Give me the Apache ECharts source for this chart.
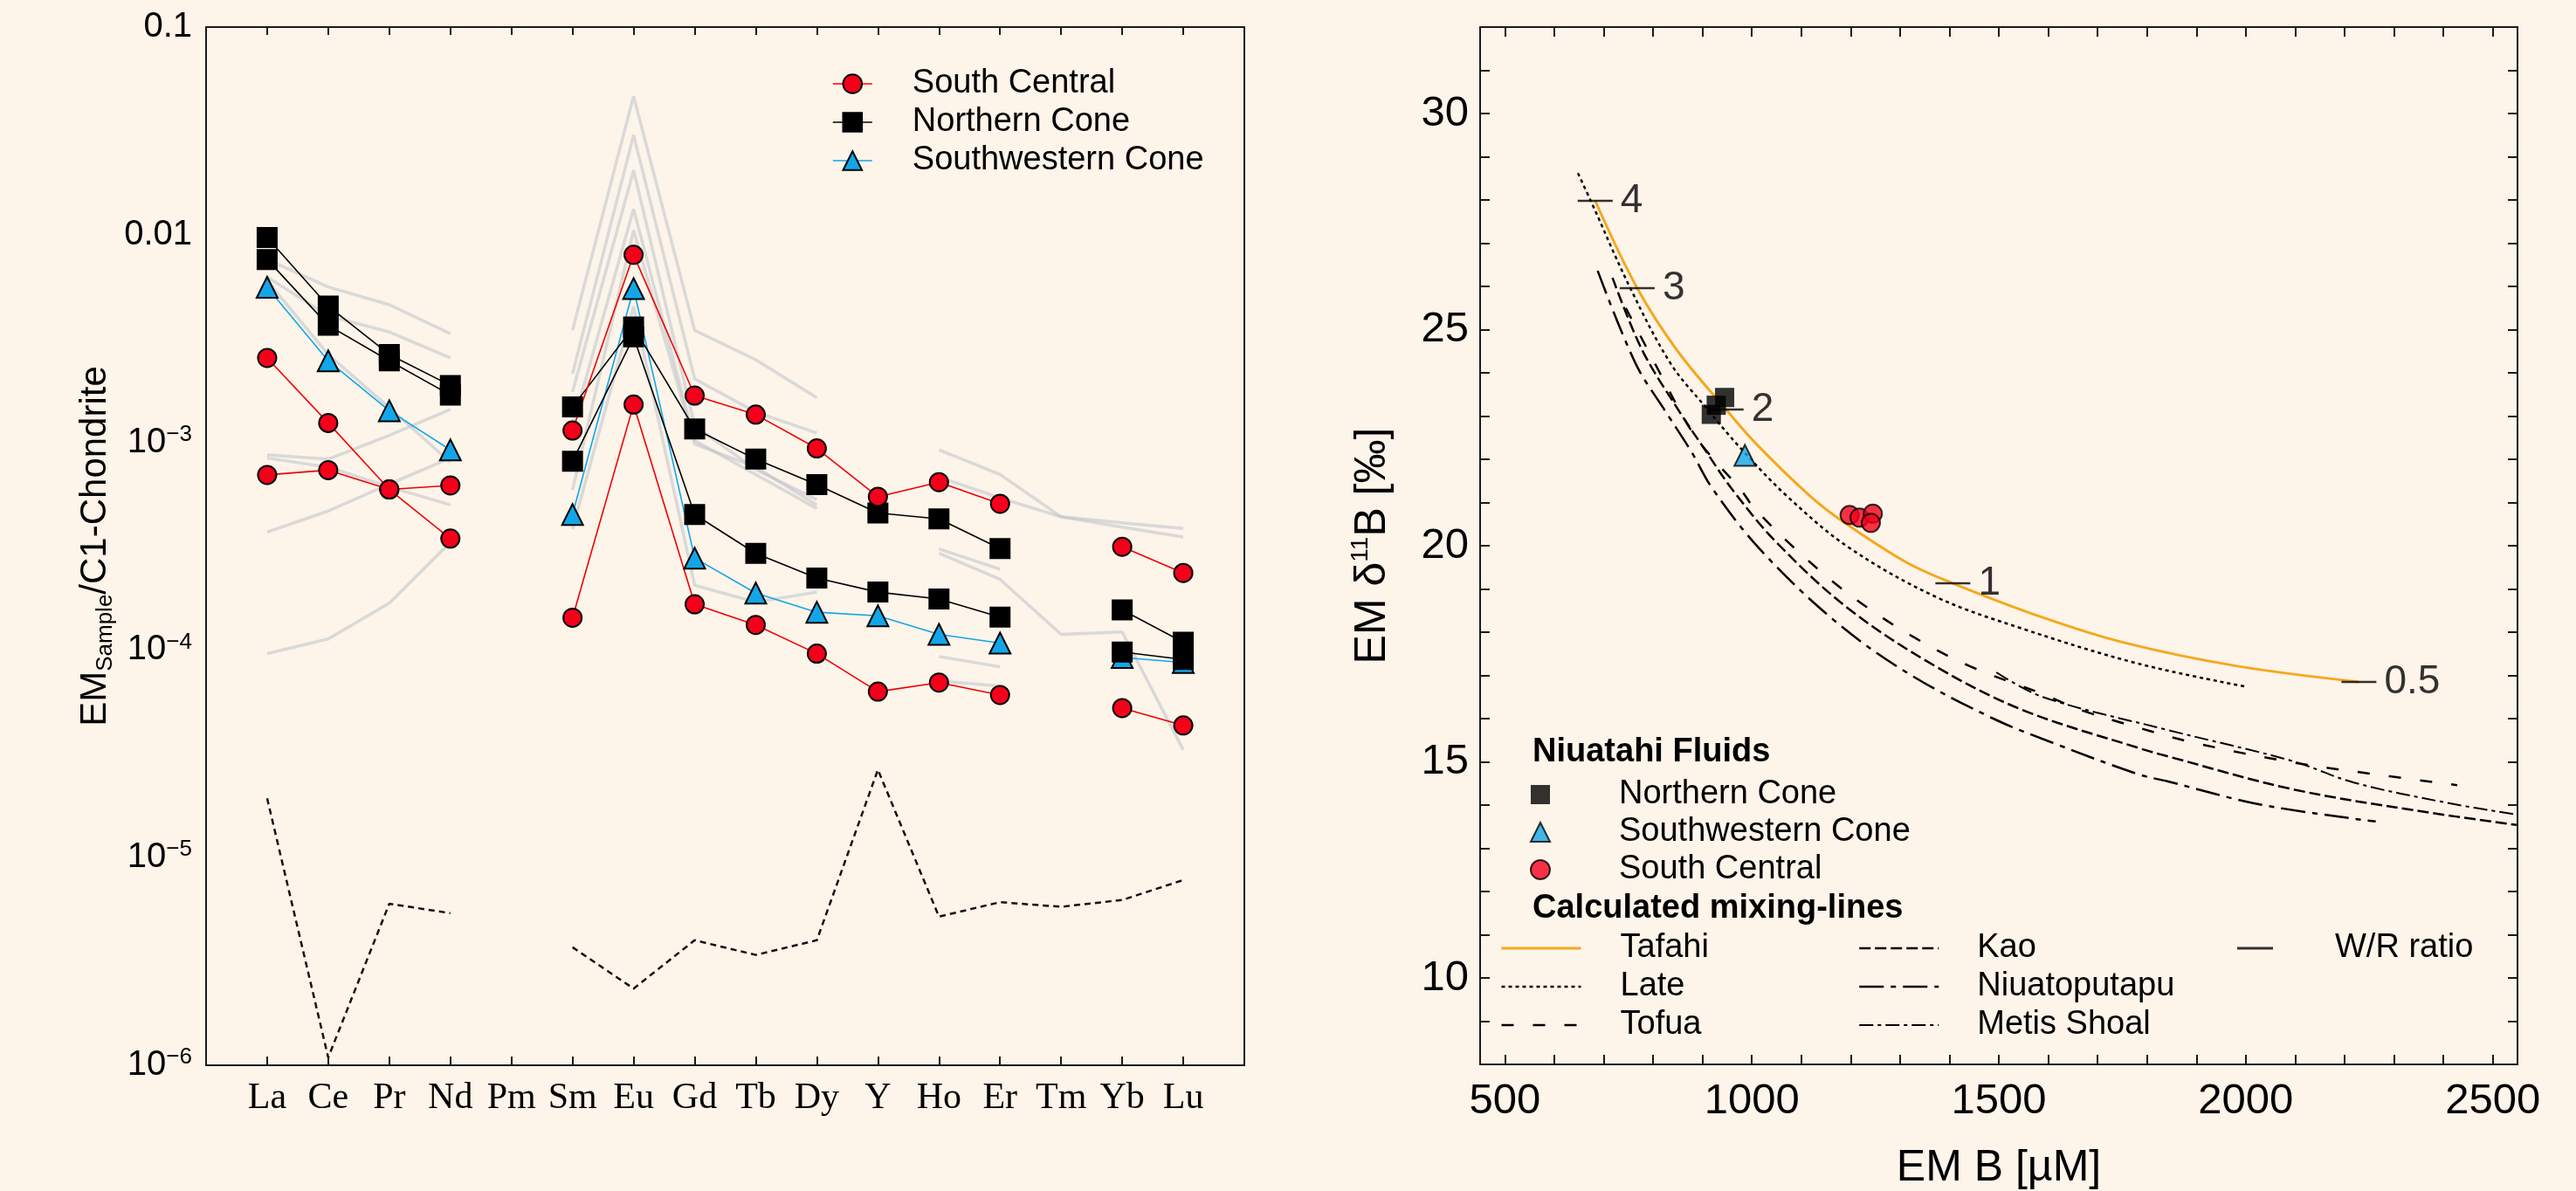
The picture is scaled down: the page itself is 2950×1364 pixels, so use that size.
<!DOCTYPE html>
<html>
<head>
<meta charset="utf-8">
<title>Niuatahi fluids – REE pattern and boron mixing</title>
<script src="https://cdn.jsdelivr.net/npm/echarts@6/dist/echarts.min.js"></script>
<style>
  html, body { margin: 0; padding: 0; background: #fdf4ea; }
  #chart { width: 2950px; height: 1364px; }
</style>
</head>
<body>
<div id="chart"></div>
<script>
  const FONT = "'Liberation Sans', Arial, sans-serif";
  const SERIF = "'Liberation Serif', 'Times New Roman', serif";

  // ---------- left panel: chondrite-normalised REE ----------
  const elements = ["La", "Ce", "Pr", "Nd", "Pm", "Sm", "Eu", "Gd", "Tb", "Dy", "Y", "Ho", "Er", "Tm", "Yb", "Lu"];
  const categories = [""].concat(elements, [""]);

  // one value per element, null = not measured
  const southCentralA = [2.55e-3, 1.24e-3, 5.93e-4, 3.44e-4, null, 1.14e-3, 8.0e-3, 1.68e-3, 1.36e-3, 9.35e-4, 5.47e-4, 6.43e-4, 5.06e-4, null, 3.14e-4, 2.35e-4];
  const southCentralB = [6.97e-4, 7.35e-4, 5.93e-4, 6.2e-4, null, 1.43e-4, 1.52e-3, 1.66e-4, 1.32e-4, 9.6e-5, 6.3e-5, 6.97e-5, 6.07e-5, null, 5.25e-5, 4.33e-5];
  const northernConeA = [9.7e-3, 4.53e-3, 2.65e-3, 1.88e-3, null, 1.48e-3, 3.59e-3, 1.16e-3, 8.3e-4, 6.26e-4, 4.57e-4, 4.28e-4, 3.08e-4, null, 1.56e-4, 1.09e-4];
  const northernConeB = [7.6e-3, 3.66e-3, 2.47e-3, 1.69e-3, null, 8.1e-4, 3.22e-3, 4.49e-4, 2.92e-4, 2.22e-4, 1.9e-4, 1.76e-4, 1.44e-4, null, 9.77e-5, 9.0e-5];
  const southwesternCone = [5.58e-3, 2.47e-3, 1.42e-3, 9.2e-4, null, 4.49e-4, 5.5e-3, 2.77e-4, 1.88e-4, 1.52e-4, 1.46e-4, 1.19e-4, 1.08e-4, null, 9.2e-5, 8.7e-5];
  const dashedProfile = [1.93e-5, 1.09e-6, 6.0e-6, 5.4e-6, null, 3.7e-6, 2.34e-6, 4.0e-6, 3.4e-6, 4.0e-6, 2.65e-5, 5.2e-6, 6.1e-6, 5.8e-6, 6.25e-6, 7.8e-6];

  // grey background fluids, La-Nd / Sm-Dy / Ho-Lu
  const grayLREE = [
    [7.6e-3, 5.6e-3, 4.6e-3, 3.34e-3],
    [6.25e-3, 4.07e-3, 3.4e-3, 2.55e-3],
    [6.0e-3, 2.65e-3, 1.47e-3, 8.0e-4],
    [8.7e-4, 8.3e-4, 1.08e-3, 1.44e-3],
    [8.4e-4, 7.6e-4, 6.1e-4, 5.0e-4],
    [3.7e-4, 4.67e-4, 6.3e-4, 8.4e-4],
    [9.6e-5, 1.13e-4, 1.68e-4, 3.3e-4]
  ];
  const grayMREE = [
    [3.47e-3, 0.0465, 3.46e-3, 2.5e-3, 1.64e-3],
    [2.14e-3, 0.0302, 2.02e-3, 1.4e-3, 1.11e-3],
    [1.75e-3, 0.0204, 1.2e-3, 7.4e-4, 5.3e-4],
    [1.2e-3, 0.0133, 1.02e-3, 7.0e-4, 4.8e-4],
    [5.9e-4, 0.0105, 9.8e-4, 7.6e-4, 5.0e-4],
    [3.83e-4, 4.5e-3, 2.05e-4, 1.7e-4, 1.9e-4]
  ];
  const grayHREE = [
    [9.2e-4, 7.0e-4, 4.38e-4, 4.1e-4, 3.85e-4],
    [6.8e-4, 5.4e-4, 4.38e-4, 3.9e-4, 3.5e-4],
    [3.07e-4, 2.45e-4, null, null, null],
    [2.92e-4, 2.19e-4, 1.19e-4, 1.22e-4, 3.3e-5],
    [9.3e-5, 8.3e-5, null, null, null],
    [7.1e-5, 6.7e-5, null, null, null]
  ];

  // ---------- right panel: boron vs delta11B ----------
  const boronNorthern = [[918, 23.04], [928, 23.25], [945, 23.43]];
  const boronSouthwestern = [[986, 22.09]];
  const boronSouthCentral = [[1198, 20.71], [1218, 20.65], [1245, 20.74], [1241, 20.53]];

  const tafahi = [[683, 27.98], [768, 25.96], [850, 24.5], [948, 23.15], [1012, 22.32], [1118, 21.15], [1183, 20.57], [1312, 19.62], [1407, 19.13], [1589, 18.34], [1753, 17.76], [1980, 17.22], [2229, 16.85]];
  const late = [[648, 28.62], [674, 27.98], [754, 25.96], [836, 24.21], [907, 23.2], [977, 22.26], [1071, 21.15], [1195, 19.97], [1372, 18.82], [1548, 18.08], [1783, 17.27], [2000, 16.74]];
  const tofua = [[745, 25.5], [812, 24.04], [874, 22.73], [918, 22.06], [977, 21.31], [1007, 20.84], [1107, 19.73], [1207, 18.79], [1324, 17.91], [1442, 17.21], [1589, 16.57], [1666, 16.2], [1783, 15.79], [1892, 15.45], [2094, 14.99], [2295, 14.66], [2428, 14.46]];
  const kao = [[718, 26.2], [777, 24.55], [848, 23.2], [907, 22.19], [960, 21.31], [1048, 20.1], [1195, 18.55], [1372, 17.21], [1548, 16.2], [1783, 15.32], [1841, 15.13], [2093, 14.37], [2346, 13.87], [2548, 13.54]];
  const niuatoputapu = [[688, 26.36], [765, 24.21], [824, 23.13], [877, 22.19], [921, 21.31], [1018, 19.9], [1166, 18.28], [1313, 17.07], [1489, 16.0], [1607, 15.45], [1783, 14.71], [1841, 14.55], [2030, 14.01], [2263, 13.62]];
  const metisShoal = [[1495, 17.07], [1589, 16.5], [1841, 15.74], [2094, 15.02], [2219, 14.52], [2408, 14.05], [2548, 13.78]];

  const wrRatioPoints = [[683, 27.98], [768, 25.96], [948, 23.15], [1407, 19.13], [2229, 16.85]];
  const wrRatioLabels = ["4", "3", "2", "1", "0.5"];

  // axis ticks
  const bTickLabels = [500, 1000, 1500, 2000, 2500];
  const bTicks = [500, 600, 700, 800, 900, 1000, 1100, 1200, 1300, 1400, 1500, 1600, 1700, 1800, 1900, 2000, 2100, 2200, 2300, 2400, 2500];
  const deltaTickLabels = [10, 15, 20, 25, 30];
  const deltaTicks = [9, 10, 11, 12, 13, 14, 15, 16, 17, 18, 19, 20, 21, 22, 23, 24, 25, 26, 27, 28, 29, 30, 31];
  const logMinorTicks = [];
  for (let e = -6; e <= -2; e++) {
    for (let k = 2; k <= 9; k++) logMinorTicks.push(e + Math.log10(k));
  }

  const AXIS_COLOR = "#1a1a1a";
  const axisLine = { show: true, onZero: false, lineStyle: { color: AXIS_COLOR, width: 2 } };
  const tickLine = { color: AXIS_COLOR, width: 2 };

  function pad(vals, start) {
    const out = new Array(categories.length).fill(null);
    vals.forEach((v, i) => { out[start + 1 + i] = v; });
    return out;
  }

  const series = [];
  const grayLine = data => ({
    type: "line", xAxisIndex: 0, yAxisIndex: 0, data, symbol: "none", silent: true,
    connectNulls: false, lineStyle: { color: "rgba(188,194,200,0.55)", width: 3.5 }, z: 1
  });
  grayLREE.forEach(v => series.push(grayLine(pad(v, 0))));
  grayMREE.forEach(v => series.push(grayLine(pad(v, 5))));
  grayHREE.forEach(v => series.push(grayLine(pad(v, 11))));

  series.push({
    type: "line", xAxisIndex: 0, yAxisIndex: 0, data: pad(dashedProfile, 0), symbol: "none", silent: true,
    lineStyle: { color: "#111", width: 2.5, type: [7, 5] }, z: 2
  });

  const sampleLine = (name, values, symbol, size, lineColor, fill) => ({
    name, type: "line", xAxisIndex: 0, yAxisIndex: 0, data: pad(values, 0),
    symbol, symbolSize: size, connectNulls: false,
    lineStyle: { color: lineColor, width: 1.6 },
    itemStyle: { color: fill, borderColor: "#000", borderWidth: 2 }, z: 3
  });
  series.push(sampleLine("Southwestern Cone", southwesternCone, "triangle", 24, "#12a6e8", "#12a6e8"));
  series.push(sampleLine("Northern Cone", northernConeA, "rect", 22, "#000", "#000"));
  series.push(sampleLine("Northern Cone", northernConeB, "rect", 22, "#000", "#000"));
  series.push(sampleLine("South Central", southCentralA, "circle", 21, "#f00000", "#f5001a"));
  series.push(sampleLine("South Central", southCentralB, "circle", 21, "#f00000", "#f5001a"));

  const mixLine = (name, data, color, width, type) => ({
    name, type: "line", xAxisIndex: 2, yAxisIndex: 4, data, symbol: "none", smooth: 0.35,
    lineStyle: { color, width, type }, z: 2
  });
  series.push(mixLine("Tafahi", tafahi, "#f4a81f", 3, "solid"));
  series.push(mixLine("Late", late, "#000", 2.5, [4, 4]));
  series.push(mixLine("Tofua", tofua, "#000", 2.5, [14, 22]));
  series.push(mixLine("Kao", kao, "#000", 2.5, [13, 5]));
  series.push(mixLine("Niuatoputapu", niuatoputapu, "#000", 2.5, [28, 8, 6, 8]));
  series.push(mixLine("Metis Shoal", metisShoal, "#000", 2, [16, 5, 4, 5]));

  series.push({
    name: "W/R ratio", type: "scatter", xAxisIndex: 2, yAxisIndex: 4,
    data: wrRatioPoints.map((p, i) => [p[0], p[1], wrRatioLabels[i]]),
    symbol: "rect", symbolSize: [40, 2.5], itemStyle: { color: "#000" },
    label: { show: true, position: "right", distance: 9, formatter: p => p.value[2], fontSize: 46, fontFamily: FONT, color: "#000" },
    z: 3
  });

  series.push({
    name: "rNC", type: "scatter", xAxisIndex: 2, yAxisIndex: 4, data: boronNorthern,
    symbol: "rect", symbolSize: 22, itemStyle: { color: "#000" }, z: 4
  });
  series.push({
    name: "rSW", type: "scatter", xAxisIndex: 2, yAxisIndex: 4, data: boronSouthwestern,
    symbol: "triangle", symbolSize: 24, itemStyle: { color: "#12a6e8", borderColor: "#000", borderWidth: 2 }, z: 4
  });
  series.push({
    name: "rSC", type: "scatter", xAxisIndex: 2, yAxisIndex: 4, data: boronSouthCentral,
    symbol: "circle", symbolSize: 21, itemStyle: { color: "#f5001a", borderColor: "#000", borderWidth: 2 }, z: 4
  });

  const rightNames = { rNC: "Northern Cone", rSW: "Southwestern Cone", rSC: "South Central" };

  const logLabel = v => {
    const e = Math.round(Math.log10(v));
    if (e === -1) return "0.1";
    if (e === -2) return "0.01";
    return "{b|10}{s|\u2212" + (-e) + "}";
  };

  const legendText = pad => ({ fontSize: 38, fontFamily: FONT, color: "#000", padding: [0, 0, 0, pad] });

  const option = {
    backgroundColor: "#fdf4ea",
    animation: false,
    textStyle: { fontFamily: FONT, color: "#000" },
    title: [
      { text: "Niuatahi Fluids", left: 1755, top: 843, padding: 0, textStyle: { fontSize: 38, fontWeight: "bold", fontFamily: FONT, color: "#000" } },
      { text: "Calculated mixing-lines", left: 1755, top: 1022, padding: 0, textStyle: { fontSize: 38, fontWeight: "bold", fontFamily: FONT, color: "#000" } }
    ],
    legend: [
      {
        data: ["South Central", "Northern Cone", "Southwestern Cone"], orient: "vertical",
        left: 953, top: 77, padding: 0, itemWidth: 45, itemHeight: 27, itemGap: 6,
        selectedMode: false, textStyle: legendText(41), lineStyle: { width: "inherit" }
      },
      {
        data: ["rNC", "rSW", "rSC"], orient: "vertical", formatter: n => rightNames[n],
        left: 1752, top: 891, padding: 0, itemWidth: 22, itemHeight: 22, itemGap: 5,
        selectedMode: false, textStyle: legendText(74)
      },
      {
        data: ["Tafahi", "Late", "Tofua"], orient: "vertical",
        left: 1718, top: 1067, padding: 0, itemWidth: 91, itemHeight: 14, itemGap: 6,
        selectedMode: false, textStyle: legendText(40), itemStyle: { opacity: 0 }, lineStyle: { width: "inherit" }
      },
      {
        data: ["Kao", "Niuatoputapu", "Metis Shoal"], orient: "vertical",
        left: 2128, top: 1067, padding: 0, itemWidth: 91, itemHeight: 14, itemGap: 6,
        selectedMode: false, textStyle: legendText(39), itemStyle: { opacity: 0 }, lineStyle: { width: "inherit" }
      },
      {
        data: [{ name: "W/R ratio", icon: "rect" }], orient: "vertical", symbolKeepAspect: false,
        left: 2562, top: 1067, padding: 0, itemWidth: 41, itemHeight: 3,
        selectedMode: false, textStyle: legendText(66)
      }
    ],
    grid: [
      { left: 236, top: 31, width: 1189, height: 1189, containLabel: false, outerBoundsMode: "none" },
      { left: 1695, top: 31, width: 1188, height: 1188, containLabel: false, outerBoundsMode: "none" }
    ],
    xAxis: [
      {
        gridIndex: 0, type: "category", position: "bottom", data: categories, boundaryGap: false,
        axisLine, axisTick: { inside: true, length: 10, interval: 0, lineStyle: tickLine },
        axisLabel: { interval: 0, margin: 17, fontFamily: SERIF, fontSize: 42, color: "#000" },
        splitLine: { show: false }
      },
      {
        gridIndex: 0, type: "category", position: "top", data: categories, boundaryGap: false,
        axisLine, axisTick: { inside: true, length: 9, interval: 0, lineStyle: tickLine },
        axisLabel: { show: false }, splitLine: { show: false }
      },
      {
        gridIndex: 1, type: "value", position: "bottom", min: 450, max: 2550,
        name: "EM B [\u00b5M]", nameLocation: "middle", nameGap: 94, nameMoveOverlap: false,
        nameTextStyle: { fontSize: 50, lineHeight: 50, fontFamily: FONT, color: "#000" },
        axisLine, axisTick: { inside: true, length: 11, customValues: bTicks, lineStyle: tickLine },
        axisLabel: { customValues: bTickLabels, formatter: v => String(v), margin: 18, fontSize: 49, fontFamily: FONT, color: "#000" },
        splitLine: { show: false }
      },
      {
        gridIndex: 1, type: "value", position: "top", min: 450, max: 2550,
        axisLine, axisTick: { inside: true, length: 11, customValues: bTicks, lineStyle: tickLine },
        axisLabel: { show: false }, splitLine: { show: false }
      }
    ],
    yAxis: [
      {
        gridIndex: 0, type: "log", logBase: 10, min: 1e-6, max: 0.1, position: "left",
        name: "{m|EM}{sub|Sample}{m|/C1-Chondrite}", nameLocation: "middle", nameRotate: 90, nameGap: 102, nameMoveOverlap: false,
        nameTextStyle: {
          rich: {
            m: { fontSize: 42, lineHeight: 50, fontFamily: FONT, color: "#000" },
            sub: { fontSize: 26, lineHeight: 30, verticalAlign: "bottom", fontFamily: FONT, color: "#000" }
          }
        },
        axisLine, axisTick: { inside: true, length: 19, lineStyle: tickLine },
        axisLabel: {
          margin: 16, formatter: logLabel, fontSize: 40, fontFamily: FONT, color: "#000",
          rich: {
            b: { fontSize: 40, lineHeight: 44, fontFamily: FONT, color: "#000" },
            s: { fontSize: 26, lineHeight: 20, verticalAlign: "top", fontFamily: FONT, color: "#000" }
          }
        },
        splitLine: { show: false }, minorTick: { show: false }
      },
      {
        gridIndex: 0, type: "log", logBase: 10, min: 1e-6, max: 0.1, position: "right",
        axisLine, axisTick: { inside: true, length: 18, lineStyle: tickLine },
        axisLabel: { show: false }, splitLine: { show: false }
      },
      {
        gridIndex: 0, type: "value", min: -6, max: -1, position: "left",
        axisLine: { show: false }, axisTick: { inside: true, length: 8, customValues: logMinorTicks, lineStyle: tickLine },
        axisLabel: { show: false }, splitLine: { show: false }
      },
      {
        gridIndex: 0, type: "value", min: -6, max: -1, position: "right",
        axisLine: { show: false }, axisTick: { inside: true, length: 8, customValues: logMinorTicks, lineStyle: tickLine },
        axisLabel: { show: false }, splitLine: { show: false }
      },
      {
        gridIndex: 1, type: "value", min: 8, max: 32, position: "left",
        name: "{m|EM \u03b4}{sup|11}{m|B [\u2030]}", nameLocation: "middle", nameRotate: 90, nameGap: 95, nameMoveOverlap: false,
        nameTextStyle: {
          rich: {
            m: { fontSize: 50, lineHeight: 56, fontFamily: FONT, color: "#000" },
            sup: { fontSize: 28, lineHeight: 24, verticalAlign: "top", fontFamily: FONT, color: "#000" }
          }
        },
        axisLine, axisTick: { inside: true, length: 11, customValues: deltaTicks, lineStyle: tickLine },
        axisLabel: { customValues: deltaTickLabels, margin: 13, fontSize: 49, fontFamily: FONT, color: "#000" },
        splitLine: { show: false }
      },
      {
        gridIndex: 1, type: "value", min: 8, max: 32, position: "right",
        axisLine, axisTick: { inside: true, length: 11, customValues: deltaTicks, lineStyle: tickLine },
        axisLabel: { show: false }, splitLine: { show: false }
      }
    ],
    series
  };

  const chart = echarts.init(document.getElementById("chart"));
  chart.setOption(option);
</script>
</body>
</html>
